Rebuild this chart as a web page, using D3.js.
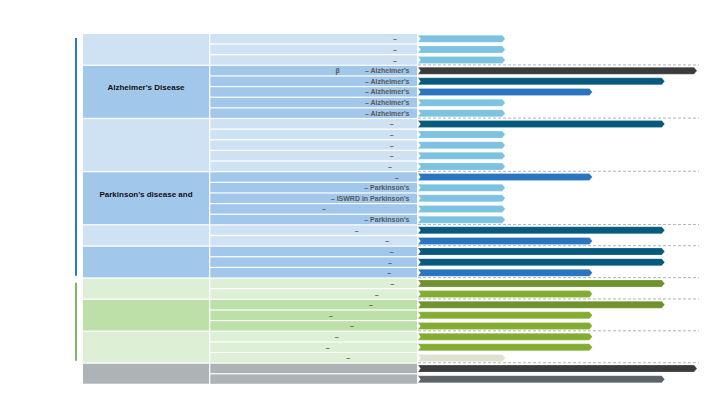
<!DOCTYPE html>
<html><head><meta charset="utf-8">
<script src="https://cdn.jsdelivr.net/npm/d3@7"></script>
<style>html,body{margin:0;padding:0;background:#fff;}svg{display:block;font-family:"Liberation Sans",Arial,sans-serif;}</style>
</head><body><div id="chart"></div>
<script>
// ---------- data ----------
const groupLabels = ["", "Alzheimer's Disease", "", "Parkinson's disease and", "", "", "", "", "", ""];
const groupSizes  = [3, 5, 5, 5, 2, 3, 2, 3, 3, 2];
const groupAreas  = ["neuro","neuro","neuro","neuro","neuro","neuro","other","other","other","marketed"];
const rowLabels = [
  "–","–","–",
  "– Alzheimer's","– Alzheimer's","– Alzheimer's","– Alzheimer's","– Alzheimer's",
  "–","–","–","–","–",
  "–","– Parkinson's","– ISWRD in Parkinson's","–","– Parkinson's",
  "–","–",
  "–","–","–",
  "–","–",
  "–","–","–",
  "–","–","–",
  "",""
];
const rowPrefix = ["","","","β","","","","","","","","","","","","","","","","","","","","","","","","","","","","",""];
// development phase reached by each row
const rowPhase = [1,1,1, 4,3,2,1,1, 3,1,1,1,1, 2,1,1,1,1, 3,2, 3,3,2, 3,2, 3,2,2, 2,2,1, 4,3];
// bar reach per phase (phase 1..4)
const phaseReach = [1, 2, 2.83, 3.2];

// ---------- layout / style ----------
const W = 720, H = 405;
const dashCenterX = [395,395,395, null,null,null,null,null, 391.7,391.7,391.7,391.7,390,
  396.7,null,null,324,null, 356.7,387.3, 391.7,390,389.3, 392.3,376.7, 371,331,352, 336.7,327.7,348.3, null,null];
const prefixX = 337.7;
const colors = {
  neuro:    {1:"#7cc3e2", 2:"#2a75c0", 3:"#055a7e", 4:"#3b3b3b"},
  other:    {1:"#dce2cf", 2:"#83ad31", 3:"#6e932c", 4:"#3b3b3b"},
  marketed: {1:"#8a9095", 2:"#6b7378", 3:"#5c6369", 4:"#3b3b3b"}
};
const shades = {
  neuro: ["#cfe2f3", "#a1c7ea"],
  other: ["#ddefd4", "#bde0a8"],
  marketed: ["#aeb3b6", "#aeb3b6"]
};
const lineColors = {neuro: "#2a78cc", other: "#7db85e"};

const svg = d3.select("#chart").append("svg").attr("width", W).attr("height", H);

const nRows = rowLabels.length;
const y = d3.scaleBand().domain(d3.range(nRows)).range([34, 385]).paddingInner(0);
const bw = y.bandwidth();
const x = d3.scaleLinear().domain([0, phaseReach[3]]).range([418, 697]);

// groups
let start = 0;
const groups = groupSizes.map((n, i) => {
  const g = {i, start, n, label: groupLabels[i], area: groupAreas[i]};
  start += n; return g;
});
let areaIdx = {};
groups.forEach(g => {
  areaIdx[g.area] = (areaIdx[g.area] === undefined) ? 0 : areaIdx[g.area] + 1;
  g.shade = shades[g.area][areaIdx[g.area] % 2];
  g.y0 = y(g.start);
  g.y1 = y(g.start + g.n - 1) + bw;
});
const rowGroup = [];
groups.forEach(g => { for (let k = 0; k < g.n; k++) rowGroup.push(g); });

// left group cells
svg.append("g").selectAll("rect").data(groups).join("rect")
  .attr("x", 83).attr("width", 126)
  .attr("y", d => d.y0).attr("height", d => d.y1 - d.y0 - 1.3)
  .attr("fill", d => d.shade);

svg.append("g").selectAll("text").data(groups.filter(g => g.label)).join("text")
  .attr("x", 146).attr("y", d => (d.y0 + d.y1) / 2 - 5).attr("dy", "0.35em")
  .attr("text-anchor", "middle").attr("font-size", 8).attr("font-weight", "bold")
  .attr("fill", "#111").text(d => d.label);

// middle row cells
svg.append("g").selectAll("rect").data(d3.range(nRows)).join("rect")
  .attr("x", 210.3).attr("width", 206.7)
  .attr("y", i => y(i)).attr("height", bw - 1.2)
  .attr("fill", i => rowGroup[i].shade);

// row texts
const tg = svg.append("g").attr("font-size", 7).attr("font-weight", "bold").attr("fill", "#5a5a5a");
tg.selectAll("text.lab").data(d3.range(nRows).filter(i => rowLabels[i])).join("text")
  .attr("class", "lab")
  .attr("x", i => dashCenterX[i] != null ? dashCenterX[i] : 409.5)
  .attr("text-anchor", i => dashCenterX[i] != null ? "middle" : "end")
  .attr("y", i => y(i) + bw / 2 - 0.5).attr("dy", "0.35em")
  .text(i => rowLabels[i]);
tg.selectAll("text.pre").data(d3.range(nRows).filter(i => rowPrefix[i])).join("text")
  .attr("class", "pre")
  .attr("x", prefixX).attr("text-anchor", "middle")
  .attr("y", i => y(i) + bw / 2 - 0.5).attr("dy", "0.35em")
  .text(i => rowPrefix[i]);

// dashed separators between groups
svg.append("g").selectAll("line").data(groups.slice(1)).join("line")
  .attr("x1", 418).attr("x2", 699)
  .attr("y1", d => d.y0 - 1).attr("y2", d => d.y0 - 1)
  .attr("stroke", "#b4b4b4").attr("stroke-width", 1).attr("stroke-dasharray", "3,2");

// bars
const bh = 7, tip = 3, notch = 2.5;
svg.append("g").selectAll("path").data(d3.range(nRows)).join("path")
  .attr("d", i => {
    const x0 = x(0), x1 = x(phaseReach[rowPhase[i] - 1]);
    const cy = y(i) + bw / 2 - 0.5, t = cy - bh / 2, b = cy + bh / 2;
    return `M${x0},${t}L${x1 - tip},${t}L${x1},${cy}L${x1 - tip},${b}L${x0},${b}L${x0 + notch},${cy}Z`;
  })
  .attr("fill", i => colors[rowGroup[i].area][rowPhase[i]])
  .attr("stroke", "#ffffff").attr("stroke-opacity", 0.35).attr("stroke-width", 0.6);

// vertical area lines
const areaSpan = a => {
  const gs = groups.filter(g => g.area === a);
  return {a, y0: gs[0].y0, y1: gs[gs.length - 1].y1};
};
svg.append("g").selectAll("line").data(["neuro", "other"].map(areaSpan)).join("line")
  .attr("x1", 76).attr("x2", 76)
  .attr("y1", d => d.y0 + 4).attr("y2", d => d.y1 - 3)
  .attr("stroke", d => lineColors[d.a]).attr("stroke-width", 2);
</script></body></html>
